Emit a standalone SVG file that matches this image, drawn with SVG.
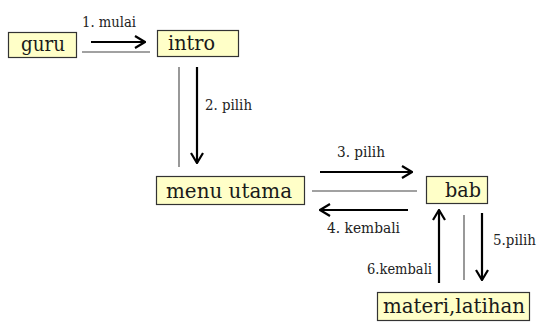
<svg xmlns="http://www.w3.org/2000/svg" width="538" height="322" viewBox="0 0 538 322">
  <defs>
    <style>
      .box { fill: #FFFFC8; stroke: #333; stroke-width: 1.2; }
      .node { font-family: 'DejaVu Serif', serif; font-size: 21px; fill: #1a1a1a; }
      .lbl { font-family: 'DejaVu Serif', serif; font-size: 14.5px; fill: #222; }
      .msg { stroke: #000; stroke-width: 2.2; fill: none; }
      .link { stroke: #444; stroke-width: 1.1; fill: none; }
    </style>
    <marker id="open" viewBox="0 0 12 14" refX="11" refY="7" markerWidth="12" markerHeight="14" markerUnits="userSpaceOnUse" orient="auto">
      <polyline points="1,1 11,7 1,13" fill="none" stroke="#000" stroke-width="2.2"/>
    </marker>
  </defs>
  <rect width="538" height="322" fill="#fff"/>

  <g id="connectors">
    <!-- guru -> intro -->
    <line class="link" x1="82" y1="52" x2="150" y2="52"/>
    <line class="msg" x1="91" y1="42" x2="145" y2="42" marker-end="url(#open)"/>
    <text class="lbl" x="82" y="27" textLength="54" lengthAdjust="spacingAndGlyphs">1. mulai</text>
    <!-- intro -> menu utama -->
    <line class="link" x1="179" y1="67" x2="179" y2="167"/>
    <line class="msg" x1="197" y1="67" x2="197" y2="163" marker-end="url(#open)"/>
    <text class="lbl" x="205" y="110" textLength="47" lengthAdjust="spacingAndGlyphs">2. pilih</text>
    <!-- menu utama <-> bab -->
    <line class="msg" x1="320" y1="172" x2="412" y2="172" marker-end="url(#open)"/>
    <text class="lbl" x="337" y="157" textLength="48" lengthAdjust="spacingAndGlyphs">3. pilih</text>
    <line class="link" x1="312" y1="191" x2="417" y2="191"/>
    <line class="msg" x1="408" y1="210" x2="320" y2="210" marker-end="url(#open)"/>
    <text class="lbl" x="327" y="233" textLength="73" lengthAdjust="spacingAndGlyphs">4. kembali</text>
    <!-- bab <-> materi,latihan -->
    <line class="msg" x1="439" y1="283" x2="439" y2="210" marker-end="url(#open)"/>
    <text class="lbl" x="367" y="274" textLength="65" lengthAdjust="spacingAndGlyphs">6.kembali</text>
    <line class="link" x1="464" y1="215" x2="464" y2="280"/>
    <line class="msg" x1="482" y1="213" x2="482" y2="280" marker-end="url(#open)"/>
    <text class="lbl" x="493" y="245" textLength="43" lengthAdjust="spacingAndGlyphs">5.pilih</text>
  </g>

  <g id="guru">
    <rect class="box" x="8.5" y="32.5" width="68" height="25"/>
    <text class="node" x="21" y="51" textLength="44" lengthAdjust="spacingAndGlyphs">guru</text>
  </g>
  <g id="intro">
    <rect class="box" x="157.5" y="30.5" width="81" height="26"/>
    <text class="node" x="168" y="50" textLength="47" lengthAdjust="spacingAndGlyphs">intro</text>
  </g>
  <g id="menu-utama">
    <rect class="box" x="156.5" y="176.5" width="148" height="28"/>
    <text class="node" x="166" y="198" textLength="126" lengthAdjust="spacingAndGlyphs">menu utama</text>
  </g>
  <g id="bab">
    <rect class="box" x="426.5" y="176.5" width="61" height="27"/>
    <text class="node" x="445" y="197" textLength="36" lengthAdjust="spacingAndGlyphs">bab</text>
  </g>
  <g id="materi-latihan">
    <rect class="box" x="377.5" y="292.5" width="152" height="28"/>
    <text class="node" x="383" y="313" textLength="142" lengthAdjust="spacingAndGlyphs">materi,latihan</text>
  </g>
</svg>
